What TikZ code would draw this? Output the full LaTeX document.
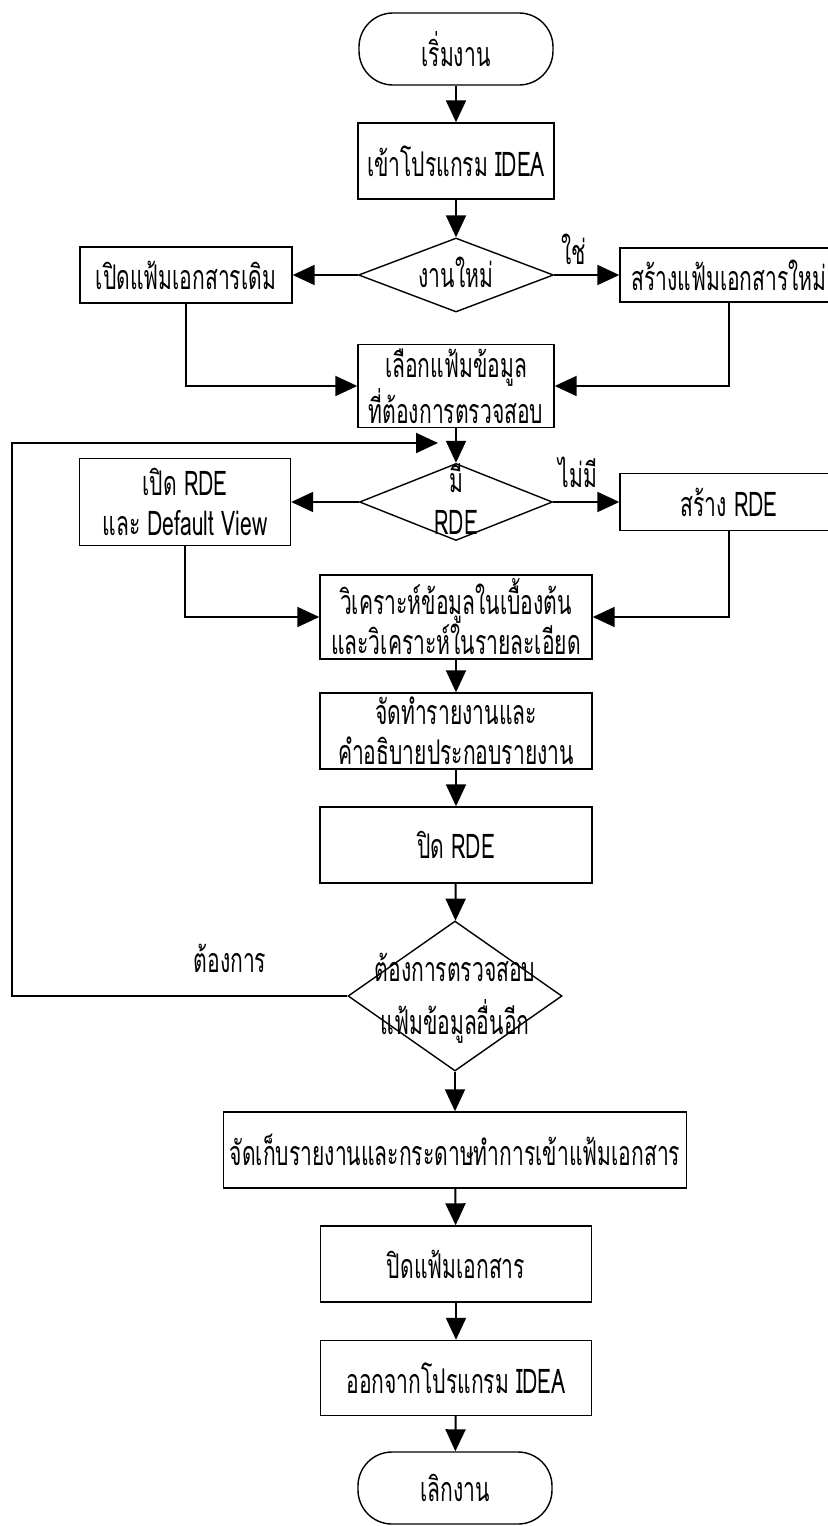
\documentclass[tikz,border=0pt]{standalone}
\usepackage{fontspec}
\setmainfont[Script=Thai, FakeStretch=0.62]{Loma}
\usetikzlibrary{arrows.meta,shapes.geometric}

\newcommand\thaitext{\fontsize{17}{20}\selectfont}
% zero-size text so the diamond keeps its given size
\newcommand\flattext[1]{\smash{\makebox[0pt]{\raisebox{-6pt}{\begin{tabular}{@{}c@{}}#1\end{tabular}}}}}

\tikzset{
  box/.style={draw, rectangle, line width=0.7pt, inner sep=2pt, align=center},
  terminal/.style={box, rounded corners=17pt, minimum width=97pt, minimum height=36pt},
  decision/.style={draw, diamond, line width=0.7pt, inner sep=0pt},
  link/.style={line width=1pt, -{Triangle[length=11pt,width=10pt]}}
}

\begin{document}
\begin{tikzpicture}[x=0.5pt, y=-0.5pt, font=\thaitext]
    \useasboundingbox (0,0) rectangle (828,1526);

    \node[terminal] (start) at (456,49) {เริ่มงาน};
    \node[box, minimum width=98pt, minimum height=38pt] (enter) at (456,161) {เข้าโปรแกรม IDEA};
    \node[decision, minimum width=97.5pt, minimum height=37pt] (newjob) at (456,275) {\flattext{งานใหม่}};
    \node[box, minimum width=106pt, minimum height=28pt] (openold) at (186,275) {เปิดแฟ้มเอกสารเดิม};
    \node[box, minimum width=109pt, minimum height=27pt] (makenew) at (729,275) {สร้างแฟ้มเอกสารใหม่};
    \node[box, minimum width=98pt, minimum height=38.5pt] (select) at (456,386) {เลือกแฟ้มข้อมูล\\ที่ต้องการตรวจสอบ};

    \node[decision, minimum width=96.5pt, minimum height=38.5pt] (hasrde) at (456,502) {\flattext{มี\\[1pt]RDE}};
    \node[box, minimum width=105.5pt, minimum height=43.5pt] (openrde) at (185,502) {เปิด RDE\\และ Default View};
    \node[box, minimum width=109pt, minimum height=28.5pt] (makerde) at (729,502) {สร้าง RDE};

    \node[box, minimum width=136pt, minimum height=38pt] (analyse) at (456,617) {วิเคราะห์ข้อมูลในเบื้องต้น\\และวิเคราะห์ในรายละเอียด};
    \node[box, minimum width=136pt, minimum height=38pt] (report) at (456,731) {จัดทำรายงานและ\\คำอธิบายประกอบรายงาน};
    \node[box, minimum width=136pt, minimum height=38pt] (closerde) at (456,845) {ปิด RDE};
    \node[decision, minimum width=107pt, minimum height=75pt] (more) at (455,996) {\flattext{ต้องการตรวจสอบ\\[3pt]แฟ้มข้อมูลอื่นอีก}};

    \node[box, minimum width=231.5pt, minimum height=38pt] (store) at (455,1150) {จัดเก็บรายงานและกระดาษทำการเข้าแฟ้มเอกสาร};
    \node[box, minimum width=135.5pt, minimum height=38pt] (closefile) at (456,1264) {ปิดแฟ้มเอกสาร};
    \node[box, minimum width=135.5pt, minimum height=37.5pt] (leave) at (456,1378) {ออกจากโปรแกรม IDEA};
    \node[terminal] (stop) at (455,1488) {เลิกงาน};

    % branch labels
    \node (yes) at (574,249) {ใช่};
    \node (no) at (578,472) {ไม่มี};
    \node (again) at (230,958) {ต้องการ};

    \coordinate (rail) at (12,443);
    \coordinate (loopend) at (438,443);

    \draw[link] (start) -- (enter);
    \draw[link] (enter) -- (newjob);
    \draw[link] (newjob) -- (openold);
    \draw[link] (newjob) -- (makenew);
    \draw[link] (openold) |- (select);
    \draw[link] (makenew) |- (select);
    \draw[link] (select) -- (hasrde);
    \draw[link] (hasrde) -- (openrde);
    \draw[link] (hasrde) -- (makerde);
    \draw[link] (openrde) |- (analyse);
    \draw[link] (makerde) |- (analyse);
    \draw[link] (analyse) -- (report);
    \draw[link] (report) -- (closerde);
    \draw[link] (closerde) -- (more);
    \draw[link] (more.west) -| (rail) -- (loopend);
    \draw[link] (more) -- (store);
    \draw[link] (store) -- (closefile);
    \draw[link] (closefile) -- (leave);
    \draw[link] (leave) -- (stop);
\end{tikzpicture}
\end{document}
